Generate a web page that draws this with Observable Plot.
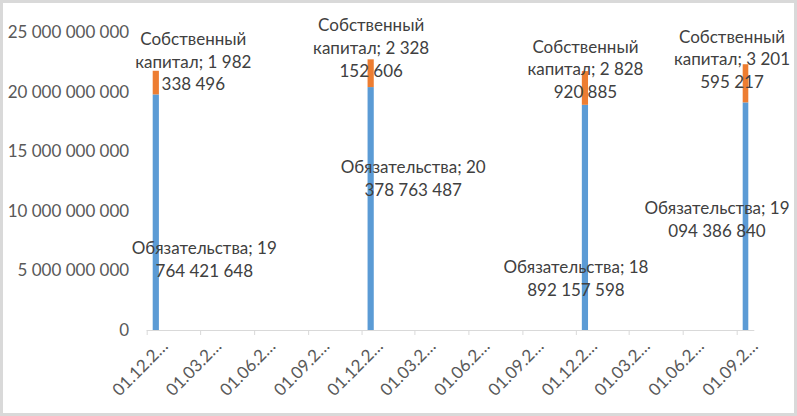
<!DOCTYPE html>
<html><head><meta charset="utf-8">
<script src="https://cdn.jsdelivr.net/npm/d3@7"></script>
<script src="https://cdn.jsdelivr.net/npm/@observablehq/plot@0.6"></script>
<style>
body{margin:0;background:#fff}
#wrap{position:relative;width:797px;height:416px;overflow:hidden;background:#fff}
#wrap svg{position:absolute;left:0;top:0}
#frame{position:absolute;left:0;top:0;right:0;bottom:0;border:3px solid #d9d9d9;box-sizing:border-box;pointer-events:none}
</style></head><body><div id="wrap"><div id="frame"></div></div>
<script>
// ---- data ----
const dates = ["2019-12-01", "2020-12-01", "2021-12-01", "2022-09-01"];
const liabilities = [19764421648, 20378763487, 18892157598, 19094386840];
const equity = [1982338496, 2328152606, 2828920885, 3201595217];
const seriesNames = ["Обязательства", "Собственный капитал"];
const seriesColors = ["#5B9BD5", "#ED7D31"];
const yTicks = [0, 5e9, 10e9, 15e9, 20e9, 25e9];
const xTickDates = ["2019-12-01", "2020-03-01", "2020-06-01", "2020-09-01", "2020-12-01", "2021-03-01",
  "2021-06-01", "2021-09-01", "2021-12-01", "2022-03-01", "2022-06-01", "2022-09-01"];
const xDomain = ["2019-12-01", "2022-10-01"];

// ---- layout (label nudges in px, Excel labels were dragged by hand) ----
const nudgeLiab = [[48, 45.7], [42, -31.8], [-9.5, 59.6], [-29, 1.8]];
const nudgeEq = [[37, -22.6], [0, -27], [0, -20.3], [-14, -25.6]];
const FONT = "Lato";
const FS = 17;
const WRAP_W = 150;

const fmt = d => d3.format(",")(d).replace(/,/g, " ");
const fmtX = d => d3.utcFormat("%d.%m.%Y")(d).slice(0, 7) + "…";

const ctx = document.createElement("canvas").getContext("2d");
ctx.font = `${FS}px ${FONT}`;
function wrap(text, maxW) {
  const words = text.split(" ");
  const lines = [];
  let cur = "";
  for (const w of words) {
    const t = cur ? cur + " " + w : w;
    if (cur && ctx.measureText(t).width > maxW) { lines.push(cur); cur = w; }
    else cur = t;
  }
  if (cur) lines.push(cur);
  return lines.join("\n");
}

const rows = [];
dates.forEach((d, i) => {
  const x1 = new Date(d);
  const x2 = d3.utcMonth.offset(x1, 1);
  rows.push({x1, x2, series: seriesNames[0], value: liabilities[i]});
});
dates.forEach((d, i) => {
  const x1 = new Date(d);
  const x2 = d3.utcMonth.offset(x1, 1);
  rows.push({x1, x2, series: seriesNames[1], value: equity[i]});
});

const labelMarks = [];
dates.forEach((d, i) => {
  const x1 = new Date(d);
  const x2 = d3.utcMonth.offset(x1, 1);
  const xm = new Date((+x1 + +x2) / 2);
  labelMarks.push(Plot.text([{x: xm, y: liabilities[i] / 2, t: wrap(`${seriesNames[0]}; ${fmt(liabilities[i])}`, WRAP_W)}],
    {x: "x", y: "y", text: "t", dx: nudgeLiab[i][0], dy: nudgeLiab[i][1], fill: "#404040", fontSize: FS, lineHeight: 1.33}));
  labelMarks.push(Plot.text([{x: xm, y: liabilities[i] + equity[i] / 2, t: wrap(`${seriesNames[1]}; ${fmt(equity[i])}`, WRAP_W)}],
    {x: "x", y: "y", text: "t", dx: nudgeEq[i][0], dy: nudgeEq[i][1], fill: "#404040", fontSize: FS, lineHeight: 1.33}));
});

const xTicks = xTickDates.map(d => new Date(d));

const chart = Plot.plot({
  width: 797, height: 416,
  marginLeft: 146.7, marginRight: 42.7, marginTop: 32, marginBottom: 86,
  style: {fontFamily: FONT, fontSize: FS + "px", color: "#595959", background: "transparent", overflow: "visible"},
  x: {type: "utc", domain: xDomain.map(d => new Date(d)), label: null},
  y: {domain: [0, 25e9], label: null},
  color: {domain: seriesNames, range: seriesColors},
  marks: [
    Plot.rectY(rows, {x1: "x1", x2: "x2", y: "value", fill: "series", insetLeft: 6, insetRight: 6}),
    Plot.ruleY([0], {stroke: "#d9d9d9", strokeWidth: 1}),
    Plot.axisY({ticks: yTicks, tickFormat: fmt, tickSize: 0, tickPadding: 18, fill: "#595959", fontSize: FS, label: null}),
    Plot.axisX({ticks: xTicks, tickFormat: () => "", tickSize: 5, stroke: "#d9d9d9", label: null}),
    Plot.axisX({ticks: xTicks, tickFormat: fmtX, tickSize: 0, tickPadding: 13, tickRotate: -45, dx: 18, fill: "#595959", fontSize: FS, label: null}),
    ...labelMarks
  ]
});
document.getElementById("wrap").insertBefore(chart, document.getElementById("frame"));
</script></body></html>
